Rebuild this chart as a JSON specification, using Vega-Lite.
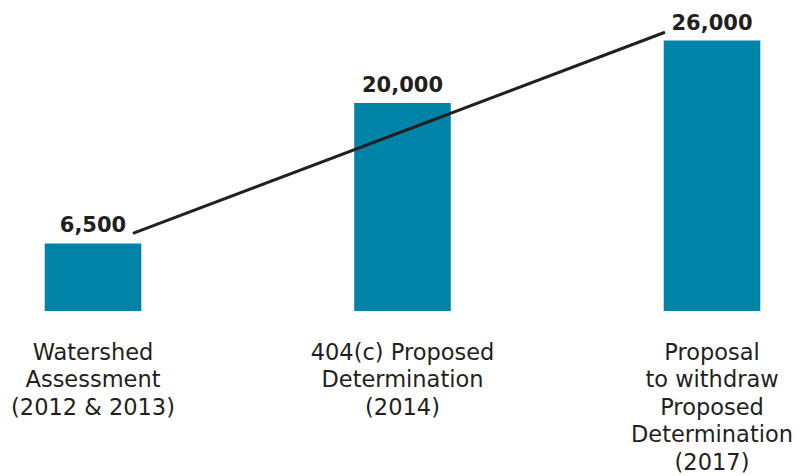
{
  "$schema": "https://vega.github.io/schema/vega-lite/v6.json",
  "width": 805,
  "height": 311,
  "autosize": "none",
  "padding": {"top": 0, "left": 0, "right": 0, "bottom": 165},
  "background": "white",
  "config": {"view": {"stroke": null}},
  "datasets": {
    "bars": [
      {"stage": "Watershed\nAssessment\n(2012 & 2013)", "count": 6500},
      {"stage": "404(c) Proposed\nDetermination\n(2014)", "count": 20000},
      {"stage": "Proposal\nto withdraw\nProposed\nDetermination\n(2017)", "count": 26000}
    ],
    "trend": [
      {"step": 0.129, "level": 7470},
      {"step": 1.848, "level": 26800}
    ]
  },
  "layer": [
    {
      "data": {"name": "bars"},
      "encoding": {
        "x": {
          "field": "stage", "type": "nominal", "sort": null,
          "scale": {"paddingInner": 0.688, "paddingOuter": 0.1445},
          "axis": {
            "title": null, "domain": false, "ticks": false, "labelAngle": 0,
            "labelExpr": "split(datum.value, '\\n')",
            "labelFont": "DejaVu Sans", "labelFontSize": 22.5, "labelColor": "#231f20",
            "labelLineHeight": 27.5, "labelPadding": 30, "labelAlign": "center",
            "labelBaseline": "top",
            "labelOverlap": false, "labelBound": false, "labelLimit": 0
          }
        },
        "y": {
          "field": "count", "type": "quantitative",
          "scale": {"domain": [0, 29900], "nice": false, "zero": true},
          "axis": null
        }
      },
      "layer": [
        {"mark": {"type": "bar", "color": "#0083a8"}},
        {
          "mark": {"type": "text", "font": "DejaVu Sans", "fontWeight": "bold", "fontSize": 21, "color": "#231f20", "baseline": "alphabetic", "dy": -11},
          "encoding": {
            "text": {"field": "count", "type": "quantitative", "format": ","}
          }
        }
      ]
    },
    {
      "data": {"name": "trend"},
      "mark": {"type": "line", "color": "#231f20", "strokeWidth": 3},
      "encoding": {
        "x": {"field": "step", "type": "quantitative", "scale": {"domain": [-0.3005, 2.3005], "nice": false, "zero": false}, "axis": null},
        "y": {"field": "level", "type": "quantitative"}
      }
    }
  ],
  "resolve": {"scale": {"x": "independent"}}
}
